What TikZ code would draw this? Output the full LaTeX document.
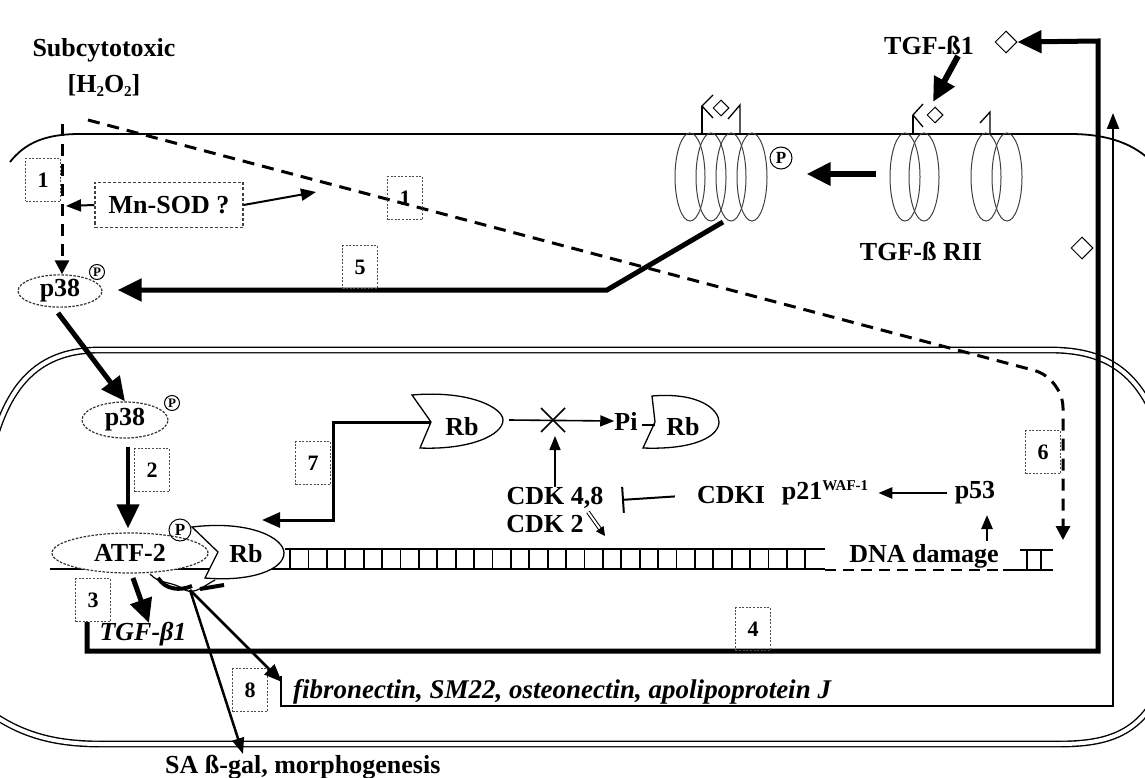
\documentclass[tikz,border=0pt]{standalone}
\usepackage{fontspec}
\setmainfont{Liberation Serif}
\usetikzlibrary{arrows.meta,shapes.geometric,calc}
\begin{document}
\begin{tikzpicture}[x=1pt,y=-1pt,
  lab/.style={font=\fontsize{26}{29}\selectfont\bfseries, inner sep=0pt},
  itlab/.style={font=\fontsize{26}{29}\selectfont\bfseries\itshape, inner sep=0pt},
  numbox/.style={draw=black!70, dash pattern=on 2pt off 1.6pt, line width=1.2pt, minimum width=35pt, minimum height=43pt, inner sep=0pt, font=\fontsize{22}{24}\selectfont\bfseries},
  memb/.style={line width=1.8pt},
  nuc/.style={double, double distance=4pt, line width=1.4pt},
  thickarr/.style={line width=5pt, -{Triangle[length=24pt,width=22pt]}},
  medarr/.style={line width=3pt, -{Triangle[length=18pt,width=15pt]}},
  thinarr/.style={line width=2pt, -{Triangle[length=14pt,width=11pt]}},
  dsh/.style={line width=3pt, dash pattern=on 12pt off 8pt},
  pcirc/.style={circle, draw, line width=1pt, inner sep=0pt, minimum size=22pt, font=\fontsize{17}{17}\selectfont\bfseries},
  spcirc/.style={circle, draw, line width=1pt, inner sep=0pt, minimum size=15pt, font=\fontsize{13}{13}\selectfont\bfseries},
  dia/.style={diamond, draw, line width=1pt, minimum size=22pt, inner sep=0pt},
  rec/.style={ellipse, draw=black!75, line width=1pt, minimum width=30pt, minimum height=88pt, inner sep=0pt},
  oval/.style={ellipse, draw=black!80, line width=1.2pt, dash pattern=on 2.5pt off 1.5pt, inner sep=0pt, fill=white, font=\fontsize{26}{29}\selectfont\bfseries},
  rbshape/.style={draw, line width=1.3pt, fill=white},
]
\useasboundingbox (0,0) rectangle (1145,778);
\fill[white] (0,0) rectangle (1145,778);
\begin{scope}
\clip (0,0) rectangle (1145,778);

% cell membrane
\draw[memb] (10,162) .. controls (25,143) and (45,134) .. (80,134) -- (1070,134) .. controls (1110,134) and (1135,145) .. (1152,162);

% nucleus envelope
\draw[nuc] (-20,520) .. controls (-8,400) and (25,350) .. (100,350) -- (1050,350) .. controls (1110,350) and (1140,375) .. (1160,430) -- (1160,690) .. controls (1140,732) and (1110,744) .. (1060,744) -- (100,744) .. controls (50,744) and (15,733) .. (-20,705) -- cycle;

% top labels
\node[lab] (sub) at (104,50) {Subcytotoxic};
\node[lab] (h2o2) at (104,85) {[H\raisebox{-4pt}{\fontsize{15}{15}\selectfont 2}O\raisebox{-4pt}{\fontsize{15}{15}\selectfont 2}]};

% upper p38
\node[oval, minimum width=84pt, minimum height=28pt] (p38a) at (60,291) {p38};
\node[spcirc] (pa) at (97,272) {P};

% H2O2 dashed arrow
\coordinate (hs) at (62,124);
\draw[dsh, -{Triangle[length=14pt,width=14pt]}] (hs) -- (hs |- p38a.north);

% box 1 and Mn-SOD
\node[numbox] (b1a) at (43,180) {1};
\node[lab, draw=black!75, dash pattern=on 3pt off 2pt, line width=1.2pt, minimum width=148pt, minimum height=45pt] (mnsod) at (169,205) {Mn-SOD ?};
\coordinate (mnl) at (66,206);
\coordinate (mnr) at (316,192);
\draw[line width=2pt, -{Triangle[length=15pt,width=12pt]}] (mnsod.west) -- (mnl);
\draw[line width=2pt, -{Triangle[length=15pt,width=12pt]}] (mnsod.east) -- (mnr);

% long dashed path (H2O2 -> DNA damage)
\coordinate (ds) at (88,120);
\coordinate (dk) at (1063,378);
\coordinate (dd) at (1063,540);
\draw[dsh, rounded corners=30pt, -{Triangle[length=14pt,width=14pt]}] (ds) -- (dk) -- (dd);
\node[numbox] (b1b) at (405,198) {1};

% receptors (complex)
\node[rec] (rA1) at (690,177) {};
\node[rec] (rA2) at (711,177) {};
\node[rec] (rA3) at (731,177) {};
\node[rec] (rA4) at (752,177) {};
\draw[line width=1.3pt] (702,133) -- (702,106);
\draw[line width=1.3pt] (713,95) -- (702,106) -- (713,118);
\node[dia, minimum size=16pt] (dA) at (721,108) {};
\draw[line width=1.3pt] (740,133) -- (740,105) -- (728,119);
\node[pcirc] (pr) at (781,158) {P};

% receptors (free)
\node[rec] (rB1) at (905,177) {};
\node[rec] (rB2) at (924,177) {};
\draw[line width=1.3pt] (913,133) -- (913,115);
\draw[line width=1.3pt] (923,104) -- (913,115) -- (923,127);
\node[dia, minimum size=16pt] (dB) at (935,115) {};
\node[rec] (rC1) at (986,177) {};
\node[rec] (rC2) at (1007,177) {};
\draw[line width=1.3pt] (990,133) -- (990,112) -- (980,123);
\node[lab] (rii) at (921,251) {TGF-ß RII};

\coordinate (ra) at (876,174);
\draw[thickarr, line width=6pt, shorten >=14pt] (ra) -- (pr.east |- ra);

% TGF-b1 outside
\node[lab] (tgfb1) at (929,45) {TGF-ß1};
\node[dia] (d1) at (1006,42) {};
\node[dia] (d2) at (1082,248) {};
\coordinate (ta) at (958,56);
\coordinate (tb) at (933,102);
\draw[thickarr, line width=6pt] (ta) -- (tb);

% pathway 5
\coordinate (r5) at (723,222);
\coordinate (k5) at (607,290);
\draw[thickarr, shorten >=15pt] (r5) -- (k5) -- (k5 -| p38a.east);
\node[numbox] (b5) at (360,267) {5};

% lower p38
\node[oval, minimum width=86pt, minimum height=36pt] (p38b) at (125,420) {p38};
\node[spcirc] (pb) at (172,403) {P};
\coordinate (a1s) at (58,313);
\draw[thickarr] (a1s) -- (p38b.north);

% DNA
\draw[line width=1.8pt] (285,549) -- (825,549);
\draw[line width=1.8pt] (50,569) -- (825,569);
\foreach \i in {0,...,28} \draw[line width=1.8pt] (290+18.4*\i,549) -- ++(0,20);
\draw[line width=1.8pt] (1003,570) -- (1053,570);
\draw[line width=1.8pt] (1020,550) -- (1053,550);
\draw[line width=1.8pt] (1027,550) -- (1027,570);
\draw[line width=1.8pt] (1041,550) -- (1041,570);
\node[lab] (dmg) at (924,556) {DNA damage};
\draw[line width=1.8pt, dash pattern=on 11pt off 7pt] (825,570) -- (1003,570);

% ATF-2 / Rb complex
\draw[line width=4pt] (158,578) .. controls (166,590) and (180,591) .. (192,586);
\draw[line width=4pt] (200,589) -- (224,585);
\draw[line width=1.2pt] (150,574) .. controls (160,585) and (170,580) .. (185,590) .. controls (195,595) and (205,585) .. (215,580);
\node[oval, minimum width=156pt, minimum height=40pt] (atf) at (130,553) {ATF-2};
\draw[rbshape] (192,527) .. controls (250,520) and (284,538) .. (284,553) .. controls (284,570) and (250,582) .. (205,578) -- (218,552) -- cycle;
\node[lab] (rbL) at (246,554) {Rb};
\node[pcirc] (patf) at (180,530) {P};
\draw[thickarr, line width=4pt] ($(p38b.south)+(3,8)$) -- ($(atf.north)+(-2,-4)$);
\node[numbox] (b2) at (152,470) {2};

% upper Rb and Pi-Rb
\draw[rbshape] (412,395) .. controls (470,390) and (503,408) .. (503,420) .. controls (503,435) and (470,450) .. (420,448) -- (431,422) -- cycle;
\node[lab] (rbU) at (462,427) {Rb};
\coordinate (rbv) at (431,422);
\coordinate (k7a) at (333,422);
\coordinate (k7b) at (333,520);
\coordinate (r7e) at (262,520);
\draw[medarr] (rbv) -- (k7a) -- (k7b) -- (r7e);
\node[numbox] (b7) at (313,463) {7};

\node[lab] (pi) at (626,421) {Pi};
\draw[rbshape] (652,396) .. controls (700,392) and (719,410) .. (719,422) .. controls (719,436) and (695,450) .. (643,448) -- (655,422) -- cycle;
\draw[line width=1.5pt] (642,425) -- (655,425);
\node[lab] (rbP) at (683,427) {Rb};

\coordinate (rbe) at (509,420);
\draw[thinarr, line width=1.6pt] (rbe) -- (pi.west);
\coordinate (xm) at (553,420);
\draw[line width=1.6pt] ($(xm)+(-12,-12)$) -- ($(xm)+(12,12)$);
\draw[line width=1.6pt] ($(xm)+(-12,12)$) -- ($(xm)+(12,-12)$);

% CDK
\node[lab] (cdk48) at (555,498) {CDK 4,8};
\node[lab] (cdk2) at (545,524) {CDK 2};
\draw[thinarr, line width=1.6pt, shorten >=16pt] (cdk48.north) -- (cdk48.north |- xm);
\coordinate (c2a) at (588,512);
\coordinate (c2b) at (605,536);
\draw[double, double distance=2pt, line width=1pt, -{Triangle[length=9pt,width=9pt]}] (c2a) -- (c2b);
\node[lab] (cdki) at (731,495) {CDKI};
\draw[line width=2pt, -{Bar[width=26pt]}, shorten <=22pt, shorten >=2pt] (cdki.west) -- (620,500);
\node[lab] (p21) at (825,493) {p21\raisebox{9pt}{\fontsize{15}{15}\selectfont WAF-1}};
\node[lab] (p53) at (975,493) {p53};
\draw[thinarr, line width=2.5pt, shorten <=8pt, shorten >=10pt] (p53.west) -- (p53.west -| p21.east);
\coordinate (dmu) at (987,541);
\draw[thinarr, line width=2.5pt] (dmu) -- (987,515);
\node[numbox] (b6) at (1043,452) {6};

% bottom: TGF-b1 gene loop
\node[numbox] (b3) at (93,600) {3};
\node[itlab] (tgfi) at (143,634) {TGF-β1};
\coordinate (tL) at (87,622);
\draw[line width=5pt, -{Triangle[length=24pt,width=22pt]}] (tL) -- (87,651) -- (1098,651) -- (1098,41) -- (d1.east);
\draw[thickarr] (133,578) -- (149,623);
\node[numbox] (b4) at (753,629) {4};

% other genes
\node[itlab, anchor=base west, font=\fontsize{27}{30}\selectfont\bfseries\itshape] (fn) at (293,698) {fibronectin, SM22, osteonectin, apolipoprotein J};
\coordinate (fL) at (281,676);
\draw[line width=2pt, -{Triangle[length=16pt,width=12pt]}] (fL) -- (281,706) -- (1113,706) -- (1113,113);
\node[numbox] (b8) at (250,690) {8};
\coordinate (ga) at (190,590);
\draw[line width=2.5pt, -{Triangle[length=18pt,width=14pt]}] (ga) -- (282,682);
\draw[line width=2.5pt, -{Triangle[length=16pt,width=12pt]}] (ga) -- (243,754);
\node[lab, anchor=west] (sa) at (165,767) {SA ß-gal, morphogenesis};
\end{scope}
\end{tikzpicture}
\end{document}
